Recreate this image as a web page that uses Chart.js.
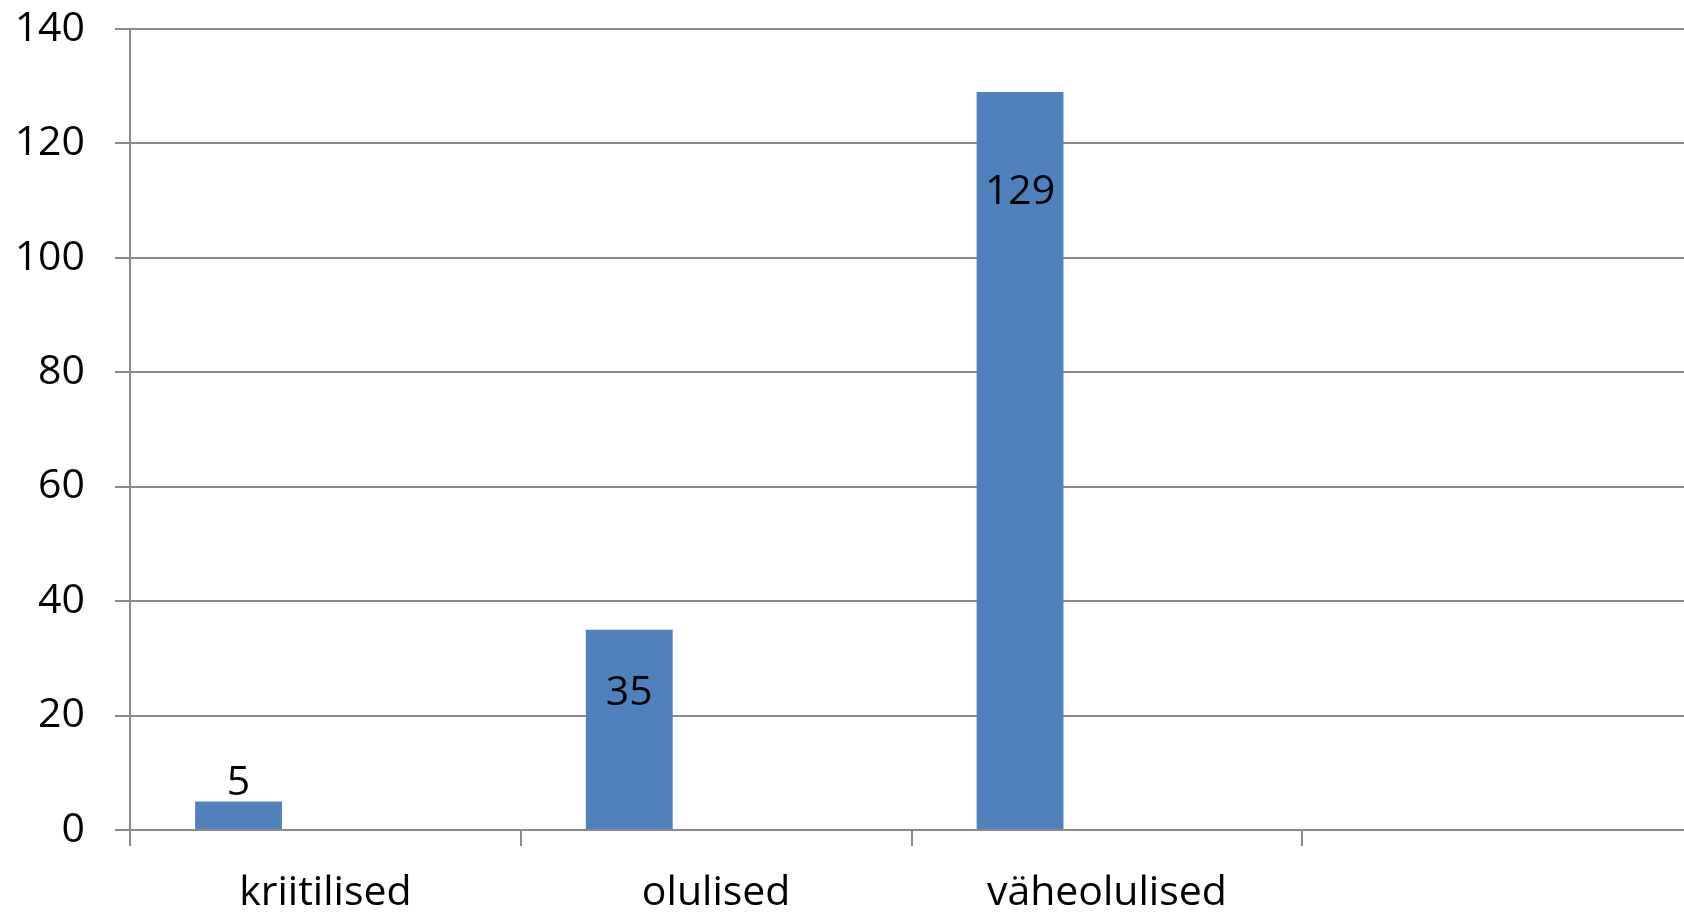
<!DOCTYPE html>
<html>
<head>
<meta charset="utf-8">
<script src="https://cdn.jsdelivr.net/npm/chart.js@4/dist/chart.umd.min.js"></script>
<style>
  html, body { margin: 0; padding: 0; background: #fff; overflow: hidden; width: 1684px; height: 912px; }
  #wrap { width: 1700px; height: 912px; }
</style>
</head>
<body>
<div id="wrap"><canvas id="c" width="1700" height="912"></canvas></div>
<script>
// ---- data ----
const categories = ['kriitilised', 'olulised', 'väheolulised', ''];
const values = [5, 35, 129, null];
const emptySeriesA = [null, null, null, null];
const emptySeriesB = [null, null, null, null];
const yTicks = [0, 20, 40, 60, 80, 100, 120, 140];

// ---- style ----
const FONT = '"Open Sans", sans-serif';
const GRID = '#8a8a8a';
const BAR = '#4F81BD';
const labelBaselineOffsets = [-6, 75, 112]; // px from bar top to label baseline

const valueLabels = {
  id: 'valueLabels',
  afterDatasetsDraw(chart) {
    const meta = chart.getDatasetMeta(0);
    const ctx = chart.ctx;
    ctx.save();
    ctx.font = '41px ' + FONT;
    ctx.fillStyle = '#000';
    ctx.textAlign = 'center';
    ctx.textBaseline = 'alphabetic';
    meta.data.forEach((el, i) => {
      const v = values[i];
      if (v === null || v === undefined) return;
      ctx.fillText(String(v), el.x, el.y + labelBaselineOffsets[i]);
    });
    ctx.restore();
  }
};

new Chart(document.getElementById('c'), {
  type: 'bar',
  data: {
    labels: categories,
    datasets: [
      { data: values, backgroundColor: BAR, borderWidth: 0 },
      { data: emptySeriesA, backgroundColor: '#C0504D', borderWidth: 0 },
      { data: emptySeriesB, backgroundColor: '#9BBB59', borderWidth: 0 }
    ]
  },
  options: {
    responsive: false,
    animation: false,
    devicePixelRatio: 1,
    layout: { padding: { left: 0, right: 7, top: 29, bottom: 0 } },
    plugins: { legend: { display: false }, tooltip: { enabled: false } },
    datasets: { bar: { categoryPercentage: 3 / 4.5, barPercentage: 1 } },
    scales: {
      x: {
        offset: true,
        grid: { display: true, drawOnChartArea: false, drawTicks: true, tickLength: 16, color: GRID, lineWidth: 2, offset: true },
        border: { display: true, color: GRID, width: 2 },
        ticks: { color: '#000', font: { family: FONT, size: 41 }, padding: 23, maxRotation: 0, autoSkip: false },
        afterFit(scale) { scale.height = 82; scale.paddingLeft = 0; scale.paddingRight = 0; }
      },
      y: {
        min: 0, max: 140,
        afterBuildTicks(scale) { scale.ticks = yTicks.map(v => ({ value: v })); },
        grid: { color: GRID, lineWidth: 2, tickLength: 15, drawTicks: true },
        border: { display: true, color: GRID, width: 2 },
        ticks: { color: '#000', font: { family: FONT, size: 41 }, padding: 30 },
        afterFit(scale) { scale.width = 130; scale.paddingTop = 0; scale.paddingBottom = 0; }
      }
    }
  },
  plugins: [valueLabels]
});
</script>
</body>
</html>
